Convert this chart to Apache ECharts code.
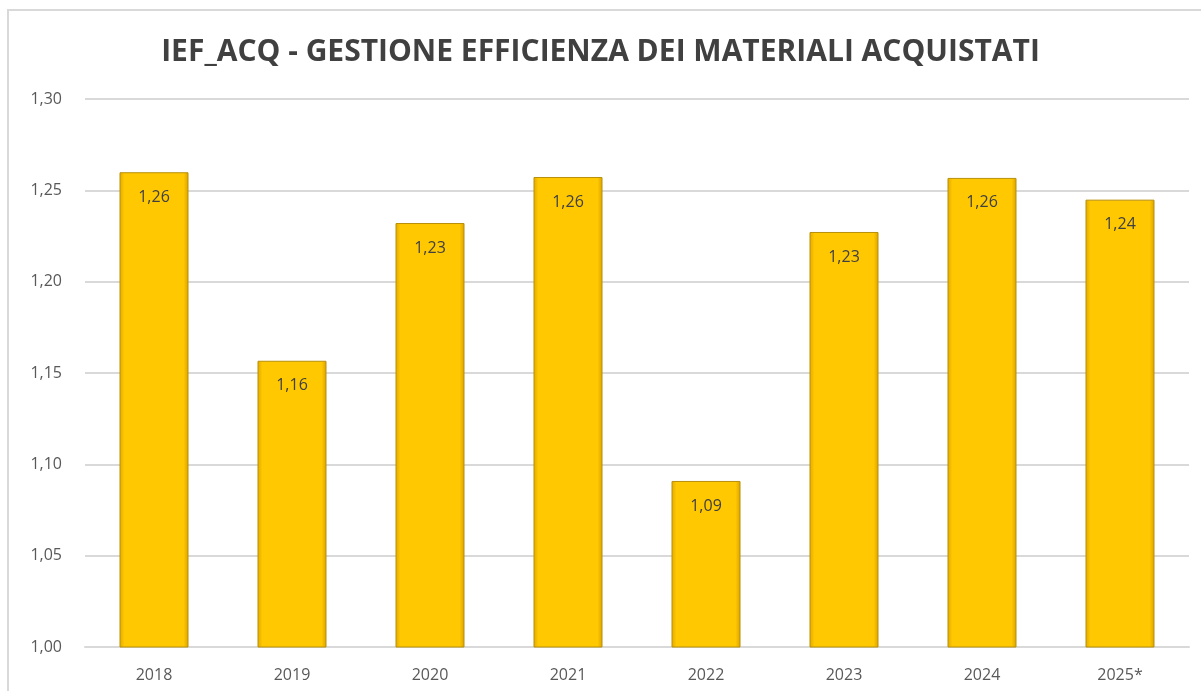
<!DOCTYPE html>
<html lang="it">
<head>
    <meta charset="UTF-8">
    <title>IEF_ACQ</title>
    <script src="https://cdn.jsdelivr.net/npm/echarts@6/dist/echarts.min.js"></script>
    <style>
        html, body { margin: 0; padding: 0; background: #fff; }
        #main { width: 1201px; height: 691px; }
    </style>
</head>
<body>
<div id="main"></div>
<script type="text/javascript">
    // dati
    var anni = ['2018', '2019', '2020', '2021', '2022', '2023', '2024', '2025*'];
    var valori = [1.2599, 1.1567, 1.2321, 1.2573, 1.0909, 1.2272, 1.2568, 1.2449];
    var titolo = 'IEF_ACQ - GESTIONE EFFICIENZA DEI MATERIALI ACQUISTATI';

    function virgola(v, d) {
        return v.toFixed(d).replace('.', ',');
    }

    var chart = echarts.init(document.getElementById('main'));

    chart.setOption({
        animation: false,
        title: {
            text: titolo,
            left: 'center',
            top: 32,
            textStyle: {
                fontFamily: 'Open Sans',
                fontSize: 30,
                fontWeight: 'bold',
                color: '#404040'
            }
        },
        graphic: [{
            type: 'rect',
            shape: { x: 8, y: 10, width: 1200, height: 690 },
            style: { fill: 'none', stroke: '#d9d9d9', lineWidth: 2 },
            silent: true
        }],
        grid: { left: 85, right: 12, top: 99, bottom: 44 },
        xAxis: {
            type: 'category',
            data: anni,
            axisLine: { show: true, lineStyle: { color: '#d9d9d9', width: 2 } },
            axisTick: { show: false },
            axisLabel: {
                color: '#595959',
                fontFamily: 'Open Sans',
                fontSize: 16,
                margin: 20
            }
        },
        yAxis: {
            type: 'value',
            min: 1.00,
            max: 1.30,
            interval: 0.05,
            axisLine: { show: false },
            axisTick: { show: false },
            splitLine: { lineStyle: { color: '#d9d9d9', width: 2 } },
            axisLabel: {
                color: '#595959',
                fontFamily: 'Open Sans',
                fontSize: 16,
                margin: 23,
                formatter: function (v) { return virgola(v, 2); }
            }
        },
        series: [{
            type: 'bar',
            data: valori,
            barWidth: '50%',
            itemStyle: {
                color: new echarts.graphic.LinearGradient(0, 0, 1, 0, [
                    { offset: 0, color: '#e0a800' },
                    { offset: 0.07, color: '#ffc800' },
                    { offset: 0.93, color: '#ffc800' },
                    { offset: 1, color: '#d9a000' }
                ]),
                borderColor: '#b8900a',
                borderWidth: 1
            },
            label: {
                show: true,
                position: 'insideTop',
                distance: 17,
                color: '#404040',
                fontFamily: 'Open Sans',
                fontSize: 16,
                formatter: function (p) { return virgola(p.value, 2); }
            }
        }]
    });
</script>
</body>
</html>
